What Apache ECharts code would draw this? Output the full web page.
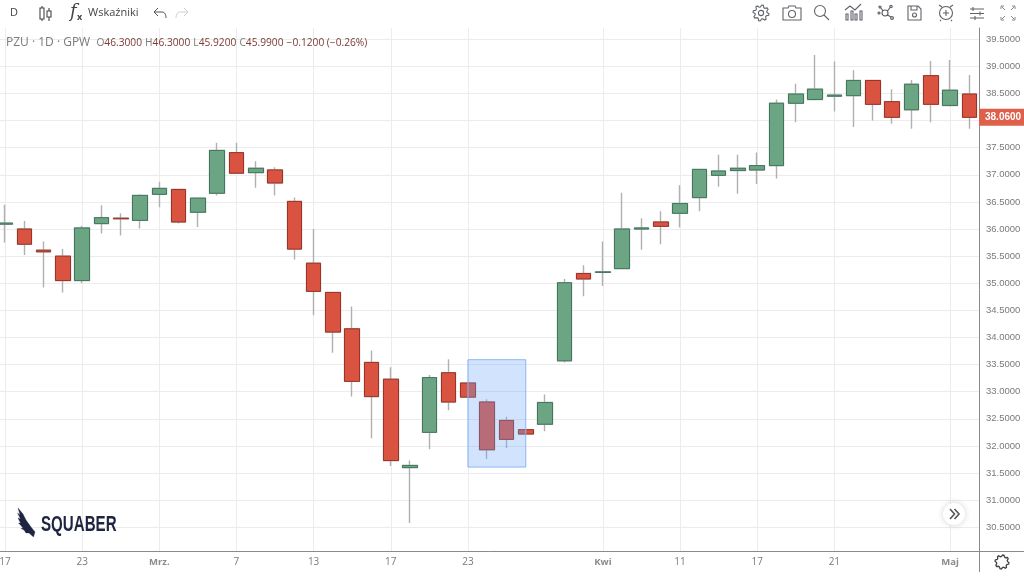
<!DOCTYPE html>
<html>
<head>
<meta charset="utf-8">
<title>PZU 1D GPW</title>
<script src="https://cdn.jsdelivr.net/npm/echarts@6/dist/echarts.min.js"></script>
<style>
html, body { margin: 0; padding: 0; background: #fff; }
#chart { width: 1024px; height: 576px; }
</style>
</head>
<body>
<div id="chart"></div>
<script>
// os czasu - puste etykiety to dni bez podpisu
var categories = ['17','','','','23','','','','Mrz.','','','','7','','','','13','','','','17','','','','23','','','','','','','Kwi','','','','11','','','','17','','','','21','','','','','','Maj',''];
var opens  = [36.09,36.00,35.61,35.50,35.05,36.10,36.20,36.16,36.64,36.73,36.31,36.66,37.41,37.04,37.09,36.51,35.37,34.83,34.16,33.54,33.23,31.60,32.25,33.35,33.16,32.81,32.47,32.30,32.40,33.57,35.18,35.20,35.27,36.00,36.13,36.29,36.58,36.99,37.08,37.09,37.17,38.32,38.39,38.45,38.46,38.74,38.35,38.20,38.83,38.28,38.49];
var closes = [36.11,35.72,35.58,35.05,36.02,36.21,36.19,36.62,36.75,36.13,36.57,37.45,37.03,37.12,36.85,35.63,34.85,34.10,33.19,32.91,31.73,31.64,33.26,32.81,32.90,31.93,32.12,32.22,32.80,35.01,35.08,35.21,36.00,36.02,36.05,36.47,37.10,37.07,37.12,37.17,38.32,38.49,38.58,38.47,38.74,38.30,38.06,38.67,38.30,38.56,38.06];
var lows   = [35.75,35.52,34.92,34.83,35.00,35.92,35.88,36.01,36.40,36.10,36.04,36.62,37.03,36.76,36.62,35.44,34.41,33.72,32.91,32.14,31.63,30.58,31.94,32.66,32.90,31.76,31.96,32.22,32.27,33.54,34.76,34.95,35.27,35.62,35.72,36.03,36.33,36.78,36.65,36.83,36.93,37.97,38.37,38.17,37.88,38.00,37.94,37.85,37.97,38.26,37.85];
var highs  = [36.45,36.15,35.77,35.63,36.06,36.44,36.29,36.64,36.87,36.73,36.57,37.59,37.59,37.25,37.14,36.58,36.00,34.83,34.57,33.76,33.45,31.73,33.31,33.60,33.16,32.86,32.54,32.30,32.95,35.08,35.33,35.77,36.67,36.20,36.33,36.81,37.10,37.37,37.37,37.41,38.39,38.68,39.21,39.09,38.93,38.74,38.58,38.75,39.10,39.12,38.84];
var lastPrice = 38.06;
var boxFrom = 24, boxTo = 27, boxTop = 33.59, boxBottom = 31.61;

var wicks = opens.map(function (o, i) { return [o, closes[i], lows[i], highs[i]]; });
var bodies = opens.map(function (o, i) {
    return [o, closes[i], Math.min(o, closes[i]), Math.max(o, closes[i])];
});

var grayText = '#7a7a7a';
var iconColor = '#5f6368';
var uiFont = '"Open Sans", sans-serif';

// ikonka paska narzedzi - graphic nie ma typu path, wiec rejestrujemy ksztalt
var iconCount = 0;
function icon(x, y, d, color, lw) {
    var name = 'toolIcon' + (iconCount++);
    echarts.graphic.registerShape(name, echarts.graphic.extendPath(d, {}));
    return {
        type: name, silent: true, z: 20, x: x, y: y,
        style: { fill: 'none', stroke: color || iconColor, lineWidth: lw || 1.1 }
    };
}
function circlePath(cx, cy, r) {
    return 'M' + (cx - r) + ' ' + cy + 'A' + r + ' ' + r + ' 0 1 1 ' + (cx + r) + ' ' + cy + 'A' + r + ' ' + r + ' 0 1 1 ' + (cx - r) + ' ' + cy + 'Z';
}
function gearPath(cx, cy, r1, r2, n) {
    var d = '';
    for (var i = 0; i < n * 4; i++) {
        var a = (i + 0.5) * Math.PI * 2 / (n * 4);
        var r = (i % 4 < 2) ? r2 : r1;
        d += (i ? 'L' : 'M') + (cx + r * Math.cos(a)).toFixed(2) + ' ' + (cy + r * Math.sin(a)).toFixed(2);
    }
    return d + 'Z';
}
function text(x, y, str, size, color, extra) {
    var style = { x: x, y: y, text: str, font: (extra || '') + ' ' + size + 'px ' + uiFont, fill: color, verticalAlign: 'middle' };
    return { type: 'text', silent: true, z: 20, style: style };
}

var logoIcon = icon(17, 508, 'M1 0L6 6L9 12L14 19L18 24L16.5 29L12 25L9 25L7 22L4 20.5L6 20L3 16.5L1.5 15L3.5 15L1 10L3.5 11L0.5 5L3 7Z', '#1f2440', 0.3);
logoIcon.style.fill = '#1f2440';

var chromeGraphics = [
    text(10, 13, 'D', 11, '#444'),
    // typ swiecy
    icon(40, 6, 'M2 0V2M2 13V15M0 2H4V13H0ZM9 2V5M9 11V15M7 5H11V11H7Z', '#444', 1.1),
    { type: 'text', silent: true, z: 20, style: { x: 70, y: 12, text: 'f', font: 'italic 18px "DejaVu Serif", serif', fill: '#444', verticalAlign: 'middle' } },
    { type: 'text', silent: true, z: 20, style: { x: 77, y: 17, text: 'x', font: 'bold 9px ' + uiFont, fill: '#444', verticalAlign: 'middle' } },
    text(88, 13, 'Wskaźniki', 11, '#444'),
    icon(154, 8, 'M4 0L0 4L4 8M0 4H8C11 4 12 7 12 10', '#555', 1),
    icon(176, 8, 'M8 0L12 4L8 8M12 4H4C1 4 0 7 0 10', '#cfcfcf', 1),
    // prawa strona paska
    icon(753, 5, gearPath(8, 8, 6, 8, 8) + circlePath(8, 8, 2.6)),
    icon(783, 6, 'M0 2H5L6 0H12L13 2H18V14H0Z' + circlePath(9, 8, 3.5)),
    icon(814, 5, circlePath(6, 6, 5.5) + 'M10 10L15 15'),
    icon(845, 4, 'M1 16V10H3V16ZM6 16V7H8V16ZM10 16V10H12V16ZM15 16V7H17V16ZM0 6L5 2L10 6L16 0'),
    icon(877, 5, circlePath(8, 8, 3) + circlePath(2, 8, 1) + circlePath(3, 2, 1) + circlePath(14, 1.5, 1.2) + circlePath(15, 13, 1.4) + 'M4 3L6 6M13 2.5L10.5 6M14 12L10.5 10', iconColor, 1.2),
    icon(908, 6, 'M0 0H10L13 3V14H0ZM3 0V4H9V0' + circlePath(6.5, 9, 2)),
    icon(938, 4, circlePath(8, 9, 6.5) + 'M8 6V12M5 9H11M1 1L4 3M15 1L12 3M3 16L2 17M13 16L14 17'),
    icon(970, 7, 'M0 2H14M0 6.5H14M0 11H14M3 0V4M10 4.5V8.5M5 9V13'),
    icon(1001, 6, 'M0 3V0H3M11 0H14V3M0 11V14H3M14 11V14H11M1 1L4 4M13 1L10 4M1 13L4 10M13 13L10 10', '#8a8a8a', 1),
    // legenda OHLC
    {
        type: 'text', silent: true, z: 20,
        style: {
            x: 6, y: 43, verticalAlign: 'middle', fill: grayText, font: '12px ' + uiFont,
            text: '{a|PZU · 1D · GPW}  {l|O}{v|46.3000} {l|H}{v|46.3000} {l|L}{v|45.9200} {l|C}{v|45.9900} {v|−0.1200 (−0.26%)}',
            rich: {
                a: { fontSize: 12, fill: grayText, fontFamily: 'Open Sans' },
                l: { fontSize: 10.2, fill: grayText, fontFamily: 'Open Sans' },
                v: { fontSize: 10.2, fill: '#7b3a33', fontFamily: 'Open Sans' }
            }
        }
    },
    // logo - brak fontu waskiego, stad scaleX
    logoIcon,
    { type: 'text', silent: true, z: 20, x: 41, y: 525, scaleX: 0.72, scaleY: 1.02, style: { x: 0, y: 0, text: 'SQUABER', font: 'bold 21px "Liberation Sans", sans-serif', fill: '#1f2440', verticalAlign: 'middle' } },
    // przycisk przewijania
    { type: 'circle', silent: true, z: 20, shape: { cx: 954, cy: 514, r: 11 }, style: { fill: '#fff', shadowBlur: 6, shadowColor: 'rgba(0,0,0,0.18)' } },
    icon(950, 509, 'M0 0L4.5 5L0 10M4.5 0L9 5L4.5 10', '#555', 1.6),
    // koncowki osi i zebatka
    { type: 'line', silent: true, z: 20, shape: { x1: 979.5, y1: 551, x2: 979.5, y2: 572 }, style: { stroke: '#8a8a8a', lineWidth: 1 } },
    { type: 'line', silent: true, z: 20, shape: { x1: 979, y1: 551.5, x2: 1024, y2: 551.5 }, style: { stroke: '#8a8a8a', lineWidth: 1 } },
    icon(995, 555, gearPath(7, 7, 5.5, 7, 8), '#444', 1.3)
];

var chart = echarts.init(document.getElementById('chart'));
var option = {
    animation: false,
    backgroundColor: '#fff',
    textStyle: { fontFamily: uiFont },
    // outerBoundsMode none - inaczej v6 sam zweza siatke pod etykiety
    grid: { left: -4.6, right: 45, top: 28, bottom: 25, outerBoundsMode: 'none' },
    xAxis: {
        type: 'category',
        data: categories,
        boundaryGap: true,
        axisLine: { show: true, lineStyle: { color: '#8a8a8a', width: 1 } },
        axisTick: { show: false },
        splitLine: {
            show: true,
            alignWithLabel: true,
            interval: function (i, v) { return v !== ''; },
            lineStyle: { color: '#ececec', width: 1 }
        },
        axisLabel: {
            color: grayText, fontSize: 10, margin: 6,
            interval: function (i, v) { return v !== ''; },
            formatter: function (v) { return /\d/.test(v) ? v : '{m|' + v + '}'; },
            rich: { m: { fontSize: 9.5, fontWeight: 'bold', color: '#8a8a8a' } }
        }
    },
    yAxis: {
        type: 'value',
        position: 'right',
        scale: true,
        min: 30.062,
        max: 39.708,
        splitNumber: 19,
        axisLine: { show: true, lineStyle: { color: '#8a8a8a', width: 1 } },
        axisTick: { show: false },
        splitLine: { show: true, showMinLine: false, showMaxLine: false, lineStyle: { color: '#ececec', width: 1 } },
        axisLabel: {
            color: grayText, fontSize: 9.5, margin: 7, fontFamily: 'Liberation Sans',
            showMinLabel: false, showMaxLabel: false,
            formatter: function (v) { return v.toFixed(4); }
        }
    },
    graphic: { elements: chromeGraphics },
    series: [
        {
            name: 'knoty',
            type: 'candlestick',
            data: wicks,
            z: 2,
            barWidth: 15,
            itemStyle: { color: '#b0b0b0', color0: '#b0b0b0', borderColor: '#b0b0b0', borderColor0: '#b0b0b0', borderWidth: 1.4 },
            silent: true
        },
        {
            name: 'PZU',
            type: 'candlestick',
            data: bodies,
            z: 3,
            barWidth: 15,
            itemStyle: { color: '#6ba583', color0: '#d95340', borderColor: '#40775c', borderColor0: '#9c3226', borderWidth: 1 },
            silent: true,
            markLine: {
                silent: true,
                symbol: 'none',
                animation: false,
                lineStyle: { color: 'transparent', width: 0 },
                label: {
                    show: true, position: 'end', distance: 0,
                    formatter: lastPrice.toFixed(4),
                    color: '#fff', fontSize: 10, fontWeight: 'bold', fontFamily: 'Liberation Sans',
                    backgroundColor: '#de5f4a', padding: [4, 6, 3, 6]
                },
                data: [{ yAxis: lastPrice }]
            },
            markArea: {
                silent: true,
                z: 10,
                animation: false,
                itemStyle: { color: 'rgba(105,165,250,0.3)', borderColor: '#8ab6f7', borderWidth: 1 },
                data: [[{ xAxis: boxFrom, yAxis: boxTop }, { xAxis: boxTo, yAxis: boxBottom }]]
            }
        }
    ]
};
chart.setOption(option);
</script>
</body>
</html>
